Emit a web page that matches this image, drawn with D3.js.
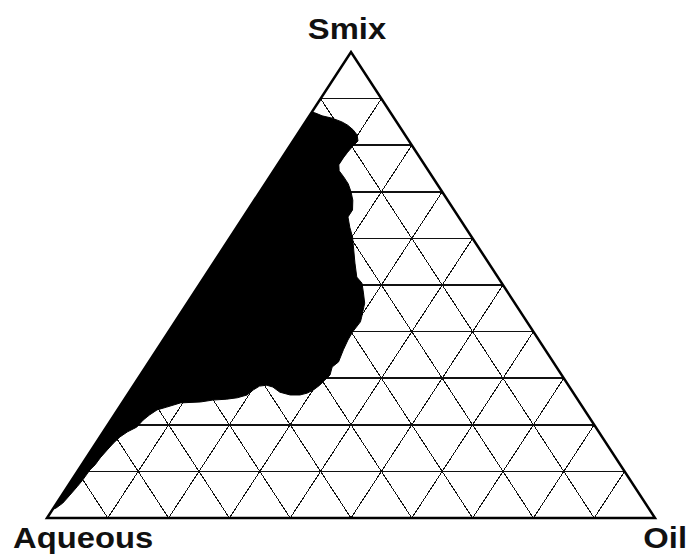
<!DOCTYPE html>
<html>
<head>
<meta charset="utf-8">
<script src="https://cdn.jsdelivr.net/npm/d3@7"></script>
<style>
  body { margin: 0; background: #fff; }
  text { font-family: "Liberation Sans", Arial, sans-serif; font-weight: bold; }
</style>
</head>
<body>
<svg id="chart" width="689" height="554"></svg>
<script>
// ternary phase diagram: Aqueous (bottom-left), Oil (bottom-right), Smix (top)

var cornerLabels = ['Aqueous', 'Oil', 'Smix']
var gridSteps = [10, 20, 30, 40, 50, 60, 70, 80, 90]

// boundary of the black (microemulsion) region, % Smix and % Oil
var phaseSmix = [87.1, 86.9, 86.3, 85.8, 85.0, 84.3, 83.3, 82.2, 80.9, 79.8, 78.5, 77.3, 75.8, 74.5,
  73.2, 71.7, 70.0, 68.2, 66.1, 64.6, 62.4, 60.3, 57.5, 54.7, 51.7, 50.4, 48.3, 46.1, 43.1, 42.1,
  39.9, 38.2, 36.1, 33.5, 32.4, 30.7, 29.6, 28.5, 27.5, 26.8, 26.4, 26.4, 27.0, 28.1, 28.5, 28.3,
  27.5, 26.4, 25.8, 25.5, 25.3, 24.9, 24.7, 23.8, 23.2, 22.1, 21.0, 19.5, 18.5, 17.4, 16.1, 14.6,
  12.9, 11.4, 10.3, 8.2, 6.7, 4.9, 3.2, 2.1, 1.9]
var phaseOil = [0.0, 0.7, 2.1, 4.0, 6.0, 7.3, 8.7, 9.9, 10.7, 10.4, 10.2, 10.1, 10.1, 10.8,
  12.2, 13.7, 15.0, 16.2, 17.2, 17.2, 18.6, 20.1, 21.7, 23.3, 25.1, 26.6, 27.9, 29.2, 30.2, 30.5,
  30.3, 30.4, 30.7, 31.2, 30.7, 31.2, 30.9, 30.6, 30.1, 29.4, 28.4, 26.8, 24.8, 23.1, 21.9, 20.8,
  20.2, 19.7, 18.4, 16.8, 14.6, 12.8, 9.6, 7.8, 6.5, 5.8, 5.3, 5.0, 4.0, 3.3, 2.9, 2.6,
  2.3, 2.2, 1.9, 1.8, 1.6, 1.3, 1.0, 0.4, 0.0]

var svg = d3.select('#chart')

// the picture is stretched sideways, so x and y scales differ
var x = d3.scaleLinear().domain([0, 100]).range([47, 655])
var y = d3.scaleLinear().domain([0, 100]).range([518, 52])

// (oil, smix) -> pixel
function pt(oil, smix) {
  return [x(oil + smix / 2), y(smix)]
}

var line = d3.line()

// grid
var grid = svg.append('g')
  .attr('stroke', '#111')
  .attr('fill', 'none')
  .attr('shape-rendering', 'crispEdges')

gridSteps.forEach(function(v) {
  // constant smix (horizontal)
  grid.append('path')
    .attr('stroke-width', 1.6)
    .attr('d', line([pt(0, v), pt(100 - v, v)]))
  // constant oil (parallel to the Aqueous-Smix side)
  grid.append('path')
    .attr('stroke-width', 1)
    .attr('d', line([pt(v, 0), pt(v, 100 - v)]))
  // constant aqueous (parallel to the Oil-Smix side)
  grid.append('path')
    .attr('stroke-width', 1)
    .attr('d', line([pt(100 - v, 0), pt(0, 100 - v)]))
})

// black region
var region = phaseSmix.map(function(s, i) { return pt(phaseOil[i], s) })
svg.append('path')
  .attr('d', line(region) + 'Z')
  .attr('fill', '#000')
  .attr('stroke', '#000')
  .attr('stroke-width', 1)

// outline
svg.append('path')
  .attr('d', line([pt(0, 0), pt(100, 0), pt(0, 100)]) + 'Z')
  .attr('fill', 'none')
  .attr('stroke', '#000')
  .attr('stroke-width', 2.5)
  .attr('stroke-linejoin', 'miter')

// corner labels
var labelPos = [
  {x: 13, y: 548, anchor: 'start'},
  {x: 687, y: 548, anchor: 'end'},
  {x: 347, y: 39, anchor: 'middle'}
]
cornerLabels.forEach(function(t, i) {
  var p = labelPos[i]
  svg.append('text')
    .attr('transform', 'translate(' + p.x + ',' + p.y + ') scale(1.13,1)')
    .attr('text-anchor', p.anchor)
    .attr('font-size', 29)
    .attr('fill', '#111')
    .text(t)
})
</script>
</body>
</html>
